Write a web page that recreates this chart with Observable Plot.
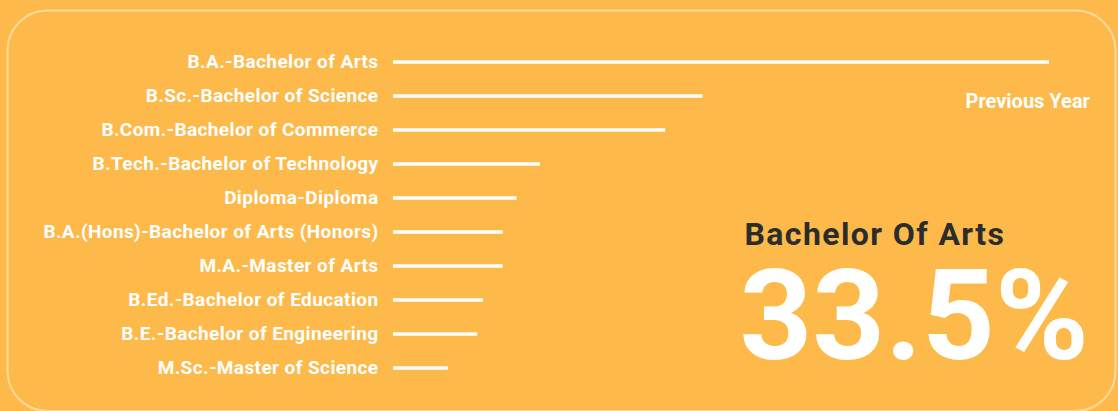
<!DOCTYPE html>
<html>
<head>
<meta charset="utf-8">
<script src="https://cdn.jsdelivr.net/npm/d3@7"></script>
<script src="https://cdn.jsdelivr.net/npm/@observablehq/plot@0.6"></script>
<style>
  html, body { margin: 0; padding: 0; background: #FDBA4B; }
  #chart { width: 1118px; height: 411px; overflow: hidden; }
  svg { display: block; }
</style>
</head>
<body>
<div id="chart"></div>
<script>
const courses = [
  "B.A.-Bachelor of Arts",
  "B.Sc.-Bachelor of Science",
  "B.Com.-Bachelor of Commerce",
  "B.Tech.-Bachelor of Technology",
  "Diploma-Diploma",
  "B.A.(Hons)-Bachelor of Arts (Honors)",
  "M.A.-Master of Arts",
  "B.Ed.-Bachelor of Education",
  "B.E.-Bachelor of Engineering",
  "M.Sc.-Master of Science"
];
const shares = [33.5, 15.8, 13.9, 7.5, 6.3, 5.6, 5.6, 4.6, 4.3, 2.8];
const legendLabel = "Previous Year";
const highlightName = "Bachelor Of Arts";
const highlightValue = "33.5%";

const data = courses.map((c, i) => ({course: c, share: shares[i]}));

const chart = Plot.plot({
  width: 1118,
  height: 411,
  marginLeft: 393,
  marginRight: 69,
  marginTop: 42.5,
  marginBottom: 23.5,
  style: {background: "#FDBA4B", color: "white", fontFamily: "Roboto, sans-serif", fontSize: "19px", overflow: "visible"},
  x: {domain: [0, 33.5], axis: null},
  y: {domain: courses, padding: 0, label: null, axis: null},
  marks: [
    Plot.frame({
      stroke: "rgba(255,255,255,0.45)", strokeWidth: 2, rx: 40,
      insetLeft: -386, insetRight: -66, insetTop: -32.5, insetBottom: -23
    }),
    Plot.axisY({tickSize: 0, tickPadding: 15, fontSize: 19, fontWeight: 700, fill: "white", label: null, dy: -0.5, className: "ylab"}),
    Plot.barX(data, {y: "course", x: "share", fill: "white", insetTop: 15.25, insetBottom: 15.25}),
    Plot.text([legendLabel], {frameAnchor: "top-left", lineAnchor: "middle", dx: 572, dy: 59, text: d => d, fill: "white",
      fontSize: 20, fontWeight: 700, textAnchor: "start", fontFamily: "Roboto"}),
    Plot.text([highlightName], {frameAnchor: "top-left", lineAnchor: "middle", dx: 351, dy: 191.5, text: d => d, fill: "#2b2c2c",
      fontSize: 32, fontWeight: 700, textAnchor: "start", fontFamily: "Roboto", className: "hl-name"}),
    Plot.text([highlightValue], {frameAnchor: "top-left", lineAnchor: "middle", dx: 346, dy: 275, text: d => d, fill: "white",
      fontSize: 127, fontWeight: 700, textAnchor: "start", fontFamily: "Roboto", className: "hl-value"})
  ]
});
document.getElementById("chart").append(chart);
chart.querySelectorAll(".hl-name text").forEach(t => t.setAttribute("letter-spacing", "1.4"));
chart.querySelectorAll(".ylab text").forEach(t => t.setAttribute("letter-spacing", "0.4"));
</script>
</body>
</html>
